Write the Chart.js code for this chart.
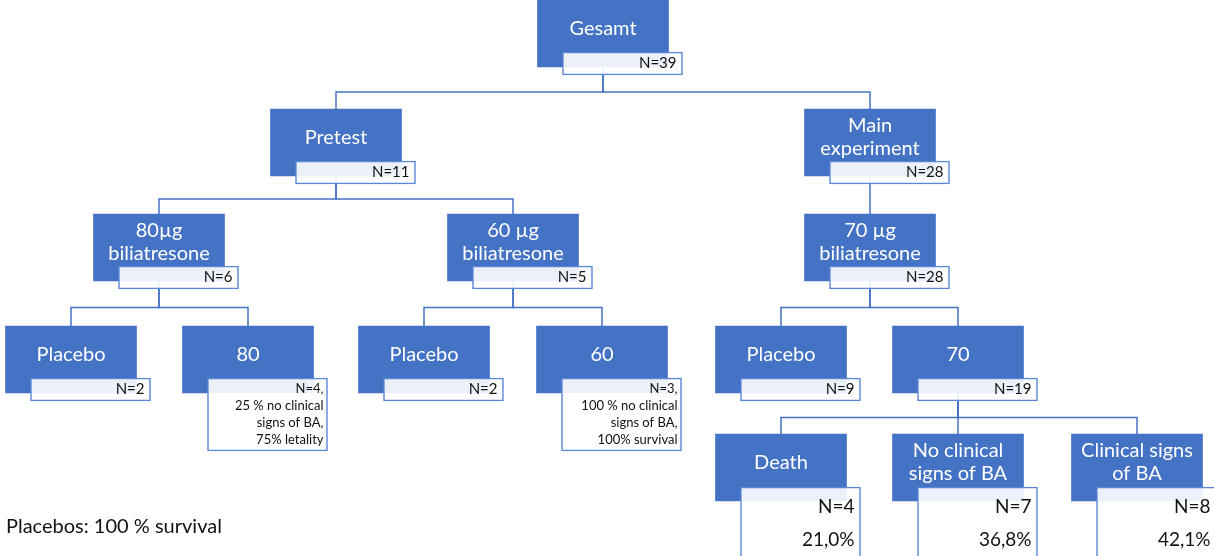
<!DOCTYPE html>
<html>
<head>
<meta charset="utf-8">
<script src="https://cdn.jsdelivr.net/npm/chart.js@4.4.1/dist/chart.umd.min.js"></script>
<style>
  body { margin: 0; background: #fff; }
  canvas { display: block; }
</style>
</head>
<body>
<canvas id="treeChart" width="1214" height="556"></canvas>
<script>
// tree data
const nodeNames = ['Gesamt', 'Pretest', 'Main\nexperiment', '80µg\nbiliatresone', '60 µg\nbiliatresone', '70 µg\nbiliatresone',
    'Placebo', '80', 'Placebo', '60', 'Placebo', '70', 'Death', 'No clinical\nsigns of BA', 'Clinical signs\nof BA'];
const nodeCounts = ['N=39', 'N=11', 'N=28', 'N=6', 'N=5', 'N=28',
    'N=2', 'N=4,\n25 % no clinical\nsigns of BA,\n75% letality', 'N=2', 'N=3,\n100 % no clinical\nsigns of BA,\n100% survival',
    'N=9', 'N=19', 'N=4\n21,0%', 'N=7\n36,8%', 'N=8\n42,1%'];
const nodeParents = [-1, 0, 0, 1, 1, 2, 3, 3, 4, 4, 5, 5, 11, 11, 11];
const footnote = 'Placebos: 100 % survival';

// layout (pixels in chart units)
const nodeX = [603, 336, 870, 159, 513, 870, 71, 248, 424, 602, 781, 958, 781, 958, 1137];
const nodeLevel = [0, 1, 1, 2, 2, 2, 3, 3, 3, 3, 3, 3, 4, 4, 4];
const levelTop = [0, 109, 214, 326, 434];
const boxH = 67, boxW = 131, subW = 120, subDx = 19.5;
const subTall = [false, false, false, false, false, false, false, true, false, true, false, false, false, false, false];

const BLUE = '#4472C4';

const boxTop = i => levelTop[nodeLevel[i]];
const boxBottom = i => boxTop(i) + boxH;
const subTop = i => boxBottom(i) - (nodeLevel[i] === 4 ? 14 : 15);
const subHeight = i => nodeLevel[i] === 4 ? 120 : (subTall[i] ? 73 : 23);

const blueBoxes = nodeX.map((x, i) => ({ x: x, y: [boxTop(i), boxBottom(i)] }));
const subBoxes = nodeX.map((x, i) => ({ x: x + subDx, y: [subTop(i), subTop(i) + subHeight(i)] }));

// connectors: parent bottom -> junction -> child top
const connectors = [];
nodeParents.forEach((p, i) => {
    if (p < 0) return;
    const jy = (subTop(p) + subHeight(p) + boxTop(i)) / 2;
    connectors.push({
        type: 'line',
        data: [
            { x: nodeX[p], y: boxBottom(p) },
            { x: nodeX[p], y: jy },
            { x: nodeX[i], y: jy },
            { x: nodeX[i], y: boxTop(i) },
        ],
        borderColor: BLUE,
        borderWidth: 1.5,
        pointRadius: 0,
        fill: false,
        tension: 0,
        order: 3,
    });
});

const textPlugin = {
    id: 'boxText',
    afterDatasetsDraw(chart) {
        const ctx = chart.ctx;
        const xs = chart.scales.x, ys = chart.scales.y;
        ctx.save();
        ctx.textBaseline = 'middle';
        nodeNames.forEach((name, i) => {
            const cx = xs.getPixelForValue(nodeX[i]);
            const cy = ys.getPixelForValue(boxTop(i) + boxH / 2) - 5;
            const lines = name.split('\n');
            ctx.fillStyle = '#ffffff';
            ctx.textAlign = 'center';
            ctx.font = '20px Lato';
            lines.forEach((l, k) => {
                ctx.fillText(l, cx, cy + (k - (lines.length - 1) / 2) * 23);
            });

            const right = xs.getPixelForValue(nodeX[i] + subDx + subW / 2);
            const top = ys.getPixelForValue(subTop(i));
            const sub = nodeCounts[i].split('\n');
            ctx.fillStyle = '#111111';
            ctx.textAlign = 'right';
            if (nodeLevel[i] === 4) {
                ctx.font = '19px Lato';
                sub.forEach((l, k) => ctx.fillText(l, right - 6, top + 20 + k * 33));
            } else if (subTall[i]) {
                ctx.font = '13px Lato';
                sub.forEach((l, k) => ctx.fillText(l, right - 4, top + 11 + k * 17));
            } else {
                ctx.font = '15px Lato';
                sub.forEach((l, k) => ctx.fillText(l, right - 6, top + 11.5 + k * 17));
            }
        });
        ctx.fillStyle = '#111111';
        ctx.textAlign = 'left';
        ctx.font = '20px Lato';
        ctx.fillText(footnote, 6, ys.getPixelForValue(527));
        ctx.restore();
    }
};

document.addEventListener('DOMContentLoaded', () => {
    const ctx = document.getElementById('treeChart').getContext('2d');

    new Chart(ctx, {
        type: 'bar',
        data: {
            datasets: [
                {
                    data: subBoxes,
                    backgroundColor: 'rgba(255, 255, 255, 0.9)',
                    borderColor: '#5a87d6',
                    borderWidth: 1.5,
                    borderSkipped: false,
                    barThickness: subW,
                    grouped: false,
                    order: 1,
                },
                {
                    data: blueBoxes,
                    backgroundColor: BLUE,
                    borderWidth: 0,
                    barThickness: boxW,
                    grouped: false,
                    order: 2,
                },
                ...connectors,
            ],
        },
        options: {
            responsive: false,
            animation: false,
            devicePixelRatio: 1,
            events: [],
            layout: { padding: 0 },
            plugins: { legend: { display: false }, tooltip: { enabled: false } },
            scales: {
                x: { type: 'linear', min: 0, max: 1214, offset: false, display: false },
                y: { type: 'linear', min: 0, max: 556, reverse: true, display: false },
            },
        },
        plugins: [textPlugin],
    });
});
</script>
</body>
</html>
